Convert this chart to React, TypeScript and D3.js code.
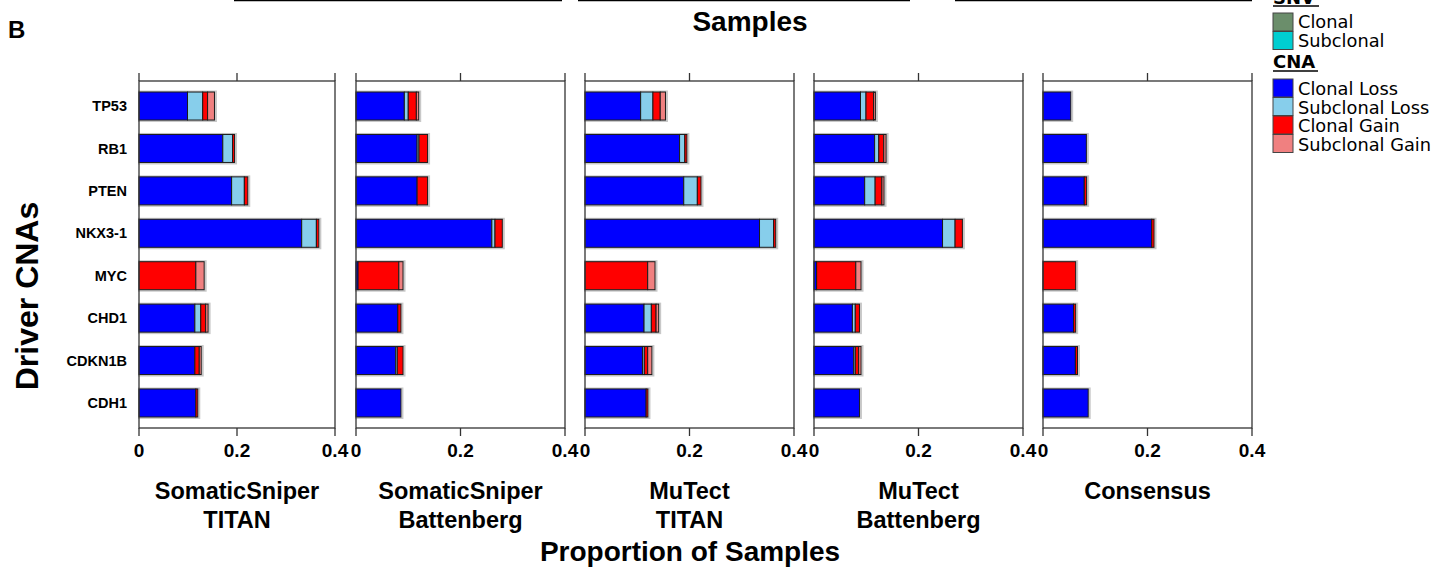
import React from "react";
import * as d3 from "d3";

// driver genes, top to bottom
const genes = ["TP53", "RB1", "PTEN", "NKX3-1", "MYC", "CHD1", "CDKN1B", "CDH1"];

const cnaTypes = ["Clonal Loss", "Subclonal Loss", "Clonal Gain", "Subclonal Gain"];
const cnaColors = ["#0000ff", "#87ceeb", "#ff0000", "#f08080"];
const snvTypes = ["Clonal", "Subclonal"];
const snvColors = ["#6b8e6b", "#00ced1"];

const panelTitles = [
  ["SomaticSniper", "TITAN"],
  ["SomaticSniper", "Battenberg"],
  ["MuTect", "TITAN"],
  ["MuTect", "Battenberg"],
  ["Consensus"],
];

// proportion of samples per gene: [clonal loss, subclonal loss, clonal gain, subclonal gain]
const somaticSniperTitan = [
  [0.099, 0.031, 0.01, 0.014],
  [0.171, 0.02, 0.004, 0],
  [0.189, 0.026, 0.007, 0],
  [0.332, 0.03, 0.005, 0],
  [0, 0, 0.116, 0.017],
  [0.114, 0.012, 0.01, 0.005],
  [0.114, 0, 0.009, 0.004],
  [0.116, 0, 0.004, 0],
];
const somaticSniperBattenberg = [
  [0.0925, 0.0075, 0.0155, 0.0045],
  [0.117, 0.0035, 0.0165, 0],
  [0.117, 0, 0.02, 0],
  [0.26, 0.006, 0.014, 0],
  [0.004, 0, 0.078, 0.008],
  [0.08, 0, 0.006, 0],
  [0.076, 0.003, 0.011, 0],
  [0.086, 0, 0, 0],
];
const mutectTitan = [
  [0.1065, 0.0235, 0.014, 0.01],
  [0.181, 0.01, 0.004, 0],
  [0.189, 0.026, 0.007, 0],
  [0.334, 0.027, 0.004, 0],
  [0, 0, 0.12, 0.014],
  [0.113, 0.014, 0.009, 0.005],
  [0.11, 0.0035, 0.0065, 0.008],
  [0.117, 0, 0.0035, 0],
];
const mutectBattenberg = [
  [0.089, 0.0105, 0.0145, 0.0035],
  [0.116, 0.008, 0.0095, 0.0045],
  [0.097, 0.02, 0.013, 0.004],
  [0.246, 0.024, 0.014, 0],
  [0.005, 0, 0.075, 0.01],
  [0.0735, 0.0055, 0.008, 0],
  [0.076, 0.003, 0.0065, 0.0045],
  [0.087, 0, 0, 0],
];
const consensus = [
  [0.053, 0, 0, 0],
  [0.083, 0, 0, 0],
  [0.079, 0, 0.0045, 0],
  [0.208, 0, 0.0045, 0],
  [0, 0, 0.0625, 0],
  [0.0585, 0, 0.004, 0],
  [0.062, 0, 0.004, 0],
  [0.0865, 0, 0, 0],
];

const panelData = [somaticSniperTitan, somaticSniperBattenberg, mutectTitan, mutectBattenberg, consensus];
const xTicks = [0, 0.2, 0.4];

const WIDTH = 1450;
const HEIGHT = 568;
const TOP = 81;
const BOTTOM = 428;
// panel pixel extents
const panelRanges: [number, number][] = [
  [139, 335],
  [356, 565],
  [585, 794],
  [814, 1023],
  [1043, 1252],
];

const bold = "'Liberation Sans', Arial, sans-serif";
const legendFont = "'DejaVu Sans', sans-serif";

const Panel: React.FC<{ rows: number[][]; range: [number, number]; title: string[]; first: boolean }> = ({
  rows,
  range,
  title,
  first,
}) => {
  const x = d3.scaleLinear().domain([0, 0.4]).range(range);
  const y = d3.scaleBand<string>().domain(genes).range([TOP, BOTTOM]).paddingInner(0.34).paddingOuter(0.26);
  const stack = d3
    .stack<number[], number>()
    .keys([0, 1, 2, 3])
    .value((d, k) => d[k]);
  const series = stack(rows);
  const cx = (range[0] + range[1]) / 2;

  return (
    <g>
      {/* bar shadows */}
      {rows.map((r, i) => (
        <rect
          key={"s" + i}
          x={x(0)}
          y={y(genes[i])! - 0.5}
          width={x(d3.sum(r)) - x(0) + 1.5}
          height={y.bandwidth() + 1.5}
          fill="none"
          stroke="#c8c8c8"
          strokeWidth={2}
        />
      ))}
      {series.map((s, k) => (
        <g key={k} fill={cnaColors[k]}>
          {s.map((d, i) =>
            d[1] - d[0] > 0 ? (
              <rect
                key={i}
                x={x(d[0])}
                y={y(genes[i])}
                width={x(d[1]) - x(d[0])}
                height={y.bandwidth()}
                stroke="#1a1a1a"
                strokeWidth={1}
              />
            ) : null
          )}
        </g>
      ))}
      {/* frame */}
      <rect x={range[0]} y={TOP} width={range[1] - range[0]} height={BOTTOM - TOP} fill="none" stroke="#333" strokeWidth={1.3} />
      {xTicks.map((t) => (
        <g key={t}>
          <line x1={x(t)} x2={x(t)} y1={TOP} y2={TOP - 8} stroke="#333" strokeWidth={1.3} />
          <line x1={x(t)} x2={x(t)} y1={BOTTOM} y2={BOTTOM + 8} stroke="#333" strokeWidth={1.3} />
          <text x={x(t)} y={457} textAnchor="middle" fontFamily={bold} fontWeight="bold" fontSize={19}>
            {t === 0 ? "0" : String(t)}
          </text>
        </g>
      ))}
      {first &&
        genes.map((g) => (
          <text
            key={g}
            x={range[0] - 12}
            y={y(g)! + y.bandwidth() / 2}
            dy="0.35em"
            textAnchor="end"
            fontFamily={bold}
            fontWeight="bold"
            fontSize={14.5}
          >
            {g}
          </text>
        ))}
      {title.map((line, i) => (
        <text key={i} x={cx} y={499 + i * 29} textAnchor="middle" fontFamily={bold} fontWeight="bold" fontSize={23.5}>
          {line}
        </text>
      ))}
    </g>
  );
};

export default function App() {
  const legendX = 1273;
  return (
    <svg width={WIDTH} height={HEIGHT} style={{ position: "absolute", left: 0, top: 0, background: "#fff" }}>
      <rect width={WIDTH} height={HEIGHT} fill="#fff" />
      {/* bottom edges of the panel above, cut off */}
      <line x1={234} x2={562} y1={0.5} y2={0.5} stroke="#000" strokeWidth={1.5} />
      <line x1={578} x2={910} y1={0.5} y2={0.5} stroke="#000" strokeWidth={1.5} />
      <line x1={955} x2={1252} y1={0.5} y2={0.5} stroke="#000" strokeWidth={1.5} />

      <text x={8} y={38} fontFamily={bold} fontWeight="bold" fontSize={24}>
        B
      </text>
      <text x={750} y={31} textAnchor="middle" fontFamily={bold} fontWeight="bold" fontSize={28}>
        Samples
      </text>

      {panelData.map((rows, i) => (
        <Panel key={i} rows={rows} range={panelRanges[i]} title={panelTitles[i]} first={i === 0} />
      ))}

      <text x={690} y={561} textAnchor="middle" fontFamily={bold} fontWeight="bold" fontSize={28}>
        Proportion of Samples
      </text>
      <text
        transform="translate(38,296) rotate(-90)"
        textAnchor="middle"
        fontFamily={bold}
        fontWeight="bold"
        fontSize={32}
      >
        Driver CNAs
      </text>

      {/* legend */}
      <text x={legendX} y={4} fontFamily={legendFont} fontWeight="bold" fontSize={18}>
        SNV
      </text>
      <line x1={legendX} x2={legendX + 46} y1={6} y2={6} stroke="#000" strokeWidth={1.5} />
      {snvTypes.map((s, i) => (
        <g key={s}>
          <rect x={legendX} y={13 + i * 18.5} width={20} height={18} fill={snvColors[i]} stroke="#444" strokeWidth={1} />
          <text x={legendX + 25} y={28 + i * 18.5} fontFamily={legendFont} fontSize={17.8}>
            {s}
          </text>
        </g>
      ))}
      <text x={legendX} y={68} fontFamily={legendFont} fontWeight="bold" fontSize={18}>
        CNA
      </text>
      <line x1={legendX} x2={legendX + 45} y1={71} y2={71} stroke="#000" strokeWidth={1.5} />
      {cnaTypes.map((s, i) => (
        <g key={s}>
          <rect x={legendX} y={79 + i * 18.5} width={20} height={18} fill={cnaColors[i]} stroke="#444" strokeWidth={1} />
          <text x={legendX + 25} y={95 + i * 18.5} fontFamily={legendFont} fontSize={17.8}>
            {s}
          </text>
        </g>
      ))}
    </svg>
  );
}
